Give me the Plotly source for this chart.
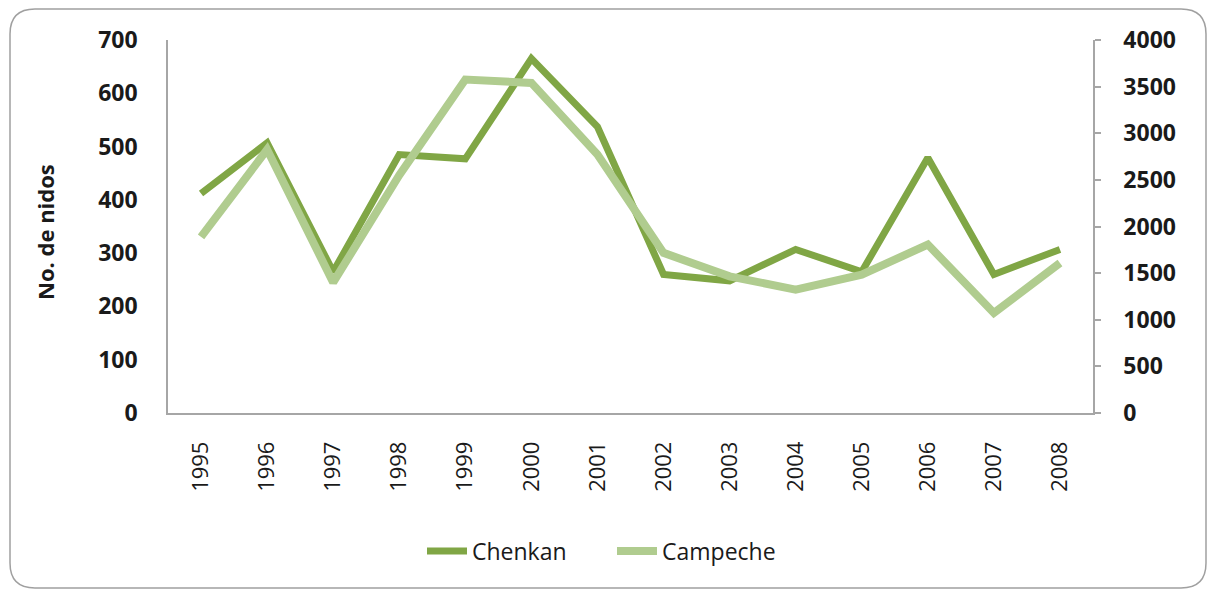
import plotly.graph_objects as go

years = ["1995", "1996", "1997", "1998", "1999", "2000", "2001",
         "2002", "2003", "2004", "2005", "2006", "2007", "2008"]
chenkan = [412, 507, 265, 485, 477, 665, 537, 260, 248, 307, 265, 479, 260, 307]
campeche = [1888, 2825, 1400, 2550, 3576, 3540, 2771, 1717, 1466, 1323, 1484, 1806, 1073, 1609]

left_ticks = [0, 100, 200, 300, 400, 500, 600, 700]
right_ticks = [0, 500, 1000, 1500, 2000, 2500, 3000, 3500, 4000]

W, H = 1211, 591
L, R, T, B = 168, 1093, 40, 413

def px(x):
    return (x - L) / (R - L)

def py(y):
    return (B - y) / (B - T)

FONT = "Open Sans"
AX = "#a6a6a6"

fig = go.Figure()
fig.add_trace(go.Scatter(x=years, y=chenkan, name="Chenkan", mode="lines",
                         line=dict(color="#80a645", width=7), yaxis="y"))
fig.add_trace(go.Scatter(x=years, y=campeche, name="Campeche", mode="lines",
                         line=dict(color="#b0cc8f", width=8), yaxis="y2"))

# rounded border
x0, x1, y0, y1, r = 10, 1206, 9, 588, 25
pts = [
    ("M", [(x0 + r, y0)]), ("L", [(x1 - r, y0)]), ("Q", [(x1, y0), (x1, y0 + r)]),
    ("L", [(x1, y1 - r)]), ("Q", [(x1, y1), (x1 - r, y1)]), ("L", [(x0 + r, y1)]),
    ("Q", [(x0, y1), (x0, y1 - r)]), ("L", [(x0, y0 + r)]), ("Q", [(x0, y0), (x0 + r, y0)]),
]
path = " ".join(c + " " + " ".join(f"{px(a):.5f},{py(b):.5f}" for a, b in p) for c, p in pts) + " Z"

fig.update_layout(
    width=W, height=H,
    margin=dict(l=L, r=W - R, t=T, b=H - B),
    paper_bgcolor="white", plot_bgcolor="white",
    font=dict(family=FONT, color="#1a1a1a"),
    showlegend=True,
    legend=dict(orientation="h", x=px(612), y=py(551), xanchor="center", yanchor="middle",
                font=dict(size=23, family=FONT, color="#1a1a1a"), itemwidth=40,
                entrywidth=135, entrywidthmode="pixels",
                traceorder="normal"),
    xaxis=dict(type="category", range=[-0.5, len(years) - 0.5], showline=True,
               linecolor=AX, linewidth=1.5,
               ticks="", tickangle=-90, ticklabelstandoff=18,
               tickfont=dict(size=22, family=FONT, color="#1a1a1a"),
               showgrid=False, zeroline=False, fixedrange=True),
    yaxis=dict(range=[0, 700], tickvals=left_ticks, showline=True, linecolor=AX, linewidth=1.5,
               ticks="", ticklabelstandoff=24, showgrid=False, zeroline=False,
               tickfont=dict(size=23, family=FONT, color="#1a1a1a", weight="bold")),
    yaxis2=dict(range=[0, 4000], tickvals=right_ticks, overlaying="y", side="right",
                showline=True, linecolor=AX, linewidth=1.5, ticks="outside", ticklen=6,
                tickcolor=AX, tickwidth=1.5, ticklabelstandoff=18, showgrid=False, zeroline=False,
                tickfont=dict(size=23, family=FONT, color="#1a1a1a", weight="bold")),
    shapes=[dict(type="path", path=path, xref="paper", yref="paper",
                 line=dict(color="#a0a0a0", width=1.5), layer="below")],
    annotations=[dict(text="No. de nidos", x=px(45), y=py(232), xref="paper", yref="paper",
                      textangle=-90, showarrow=False, xanchor="center", yanchor="middle",
                      font=dict(size=22, family=FONT, color="#1a1a1a", weight="bold"))],
)

fig.write_html("out.html", config={"displayModeBar": False},
               post_script="document.body.style.margin='0';")
